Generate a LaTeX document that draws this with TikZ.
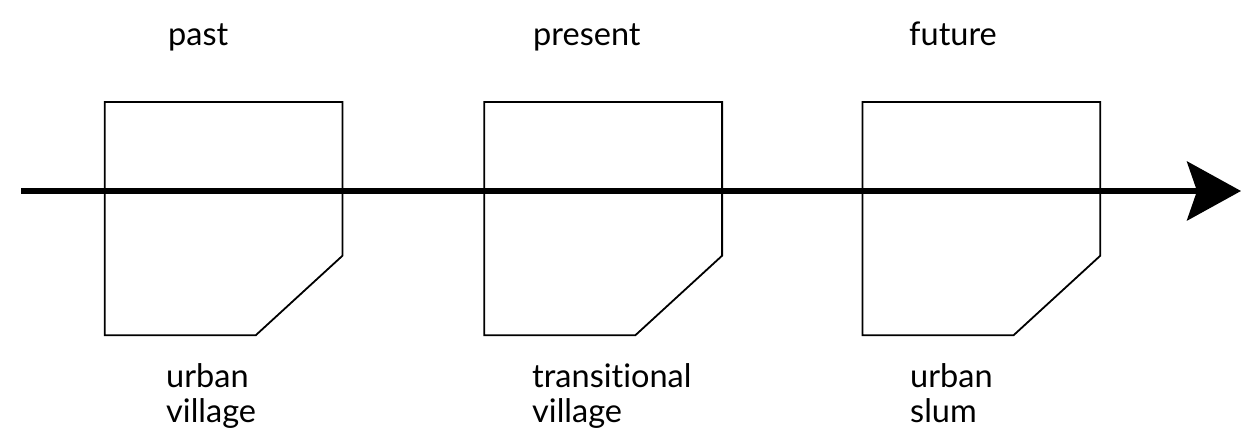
\documentclass[tikz,border=0pt]{standalone}
\usepackage{fontspec}
\setmainfont{Lato}[Ligatures={NoCommon}]
\usetikzlibrary{arrows.meta}
\begin{document}
\begin{tikzpicture}[x=1pt,y=-1pt,
  lbl/.style={anchor=base west,inner sep=0pt,font=\fontsize{32.5}{34.5}\selectfont,align=left},
  boxshape/.style={draw=black,line width=1.8pt,line join=miter},
  timeline/.style={line width=5.5pt,-{Stealth[length=54pt,width=59pt,inset=10pt]}}]
\useasboundingbox (0,0) rectangle (1259,435);
\foreach \x/\n in {104.7/a,484.3/b,862.5/c}{
  \draw[boxshape] (\x,102) -- (\x+237.8,102) -- (\x+237.8,255.7) -- (\x+151,335.3) -- (\x,335.3) -- cycle;
}
\coordinate (s) at (21,191);
\coordinate (e) at (1241,191);
\draw[timeline] (s) -- (e);
\node[lbl] (t1) at (168,46) {past};
\node[lbl] (t2) at (533,46) {present};
\node[lbl] (t3) at (909,46) {future};
\node[lbl] (b1) at (166,422.5) {urban\\village};
\node[lbl] (b2) at (532,422.5) {transitional\\village};
\node[lbl] (b3) at (910,422.5) {urban\\slum};
\end{tikzpicture}
\end{document}
